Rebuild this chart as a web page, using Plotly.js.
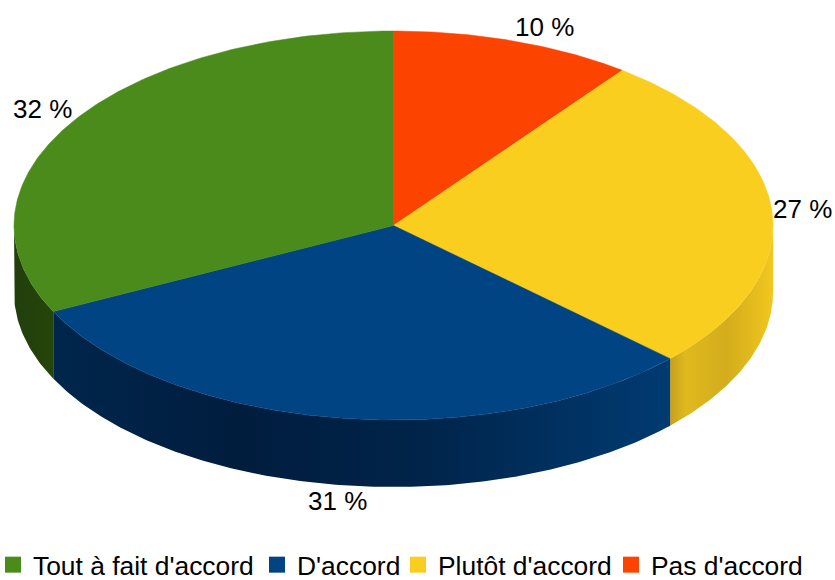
<!DOCTYPE html>
<html><head><meta charset="utf-8">
<script src="https://cdn.plot.ly/plotly-3.0.1.min.js"></script>
<style>html,body{margin:0;padding:0;background:#fff}#c{width:835px;height:580px}</style>
</head><body><div id="c"></div>
<script>
// Data, clockwise from 12 o'clock, in drawing order
const categories = ["Pas d'accord", "Plutôt d'accord", "D'accord", "Tout à fait d'accord"];
const values = [10.3, 26.7, 30.7, 32.3];
const colors = ["#fd4300", "#f9ce1f", "#004483", "#4a8b1b"];
const sideScales = [
  null,
  [[0,"#c5a01b"],[0.15,"#e0b91e"],[0.55,"#d3ad1c"],[0.9,"#eac11e"],[1,"#f2c81f"]],
  [[0,"#00264c"],[0.3,"#001d3e"],[0.6,"#00244a"],[1,"#003b72"]],
  [[0,"#223f0b"],[1,"#24450b"]]
];
const legendOrder = ["Tout à fait d'accord", "D'accord", "Plutôt d'accord", "Pas d'accord"];
const legendX = [-7, 257, 398, 611];
const labelX = [544, 802, 337, 42];
const labelY = [27, 209, 501, 109];

// Projection of the tilted disc onto the axes
const cx = 393.5, cy = 225.5, rx = 379.5, ry = 194.5, depth = 67;
const px = a => cx + rx * Math.sin(a);
const py = a => cy - ry * Math.cos(a);
const total = values.reduce((s, v) => s + v, 0);
const traces = [];
function arc(a0, a1) {
  const n = Math.max(2, Math.ceil(Math.abs(a1 - a0) / 0.01));
  const out = [];
  for (let i = 0; i <= n; i++) out.push(a0 + (a1 - a0) * i / n);
  return out;
}
let acc = 0;
const slices = values.map(v => { const a0 = acc / total * 2 * Math.PI; acc += v; return [a0, acc / total * 2 * Math.PI]; });

// Visible rim: the front half of the disc
slices.forEach(([a0, a1], i) => {
  const s = Math.max(a0, Math.PI / 2), e = Math.min(a1, Math.PI * 1.5);
  if (s >= e) return;
  const top = arc(s, e), bot = top.slice().reverse();
  traces.push({
    type: "scatter", mode: "lines", fill: "toself", showlegend: false, hoverinfo: "skip",
    x: top.map(px).concat(bot.map(px)),
    y: top.map(py).concat(bot.map(a => py(a) + depth)),
    line: {width: 0},
    fillcolor: colors[i],
    fillgradient: {type: "horizontal", colorscale: sideScales[i]}
  });
});
// Top faces
slices.forEach(([a0, a1], i) => {
  const a = arc(a0, a1);
  traces.push({
    type: "scatter", mode: "lines", fill: "toself", showlegend: false, hoverinfo: "skip",
    x: [cx].concat(a.map(px), [cx]),
    y: [cy].concat(a.map(py), [cy]),
    line: {width: 0.5, color: colors[i]}, fillcolor: colors[i]
  });
});
const font = {family: "Liberation Sans, Arial, sans-serif", size: 26, color: "#000"};
const legendFont = {family: "Liberation Sans, Arial, sans-serif", size: 26.4, color: "#000"};
const layout = {
  width: 835, height: 580,
  margin: {l: 0, r: 0, t: 0, b: 0, autoexpand: false},
  paper_bgcolor: "#fff", plot_bgcolor: "#fff",
  xaxis: {range: [0, 835], visible: false, fixedrange: true},
  yaxis: {range: [580, 0], visible: false, fixedrange: true},
  showlegend: true,
  annotations: values.map((v, i) => ({
    x: labelX[i], y: labelY[i], text: Math.round(v) + " %", showarrow: false, xanchor: "center", yanchor: "middle", font: font
  }))
};
// One positioned legend per entry, so the spacing follows the reference
legendOrder.forEach((name, k) => {
  const id = k === 0 ? "legend" : "legend" + (k + 1);
  traces.push({
    type: "scatter", mode: "markers", name: name, x: [null], y: [null], legend: id,
    marker: {symbol: "square", size: 16, color: colors[categories.indexOf(name)]}
  });
  layout[id] = {x: legendX[k] / 835, y: 15 / 580, xanchor: "left", yanchor: "middle", font: legendFont, bgcolor: "rgba(0,0,0,0)"};
});
Plotly.newPlot("c", traces, layout, {displayModeBar: false, staticPlot: true});
</script></body></html>
